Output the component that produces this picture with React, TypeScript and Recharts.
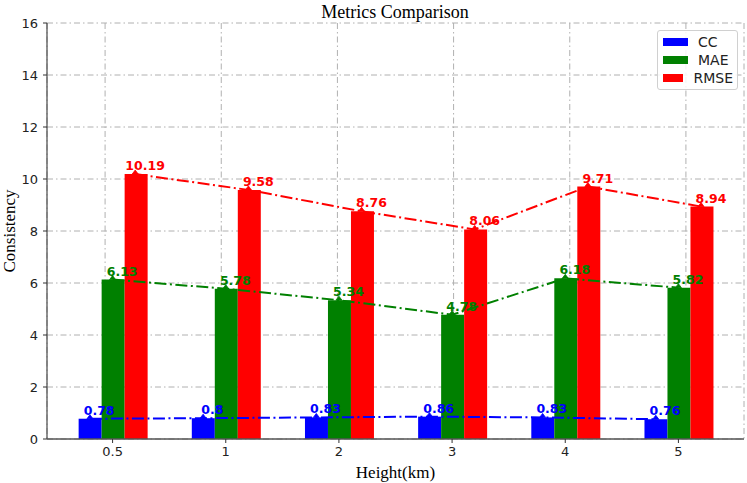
import React from "react";
import {
  ComposedChart,
  Bar,
  Line,
  XAxis,
  YAxis,
  CartesianGrid,
  Legend,
  LabelList,
  Customized,
} from "recharts";

const heights = ["0.5", "1", "2", "3", "4", "5"];
const ccValues = [0.78, 0.8, 0.83, 0.86, 0.83, 0.76];
const maeValues = [6.13, 5.78, 5.34, 4.78, 6.18, 5.82];
const rmseValues = [10.19, 9.58, 8.76, 8.06, 9.71, 8.94];
const yTicks = [0, 2, 4, 6, 8, 10, 12, 14, 16];

const series = [
  { key: "CC", color: "#0000ff", values: ccValues, shift: -0.2 },
  { key: "MAE", color: "#008000", values: maeValues, shift: 0 },
  { key: "RMSE", color: "#ff0000", values: rmseValues, shift: 0.2 },
];

const barData = heights.map((h, i) => ({
  h,
  CC: ccValues[i],
  MAE: maeValues[i],
  RMSE: rmseValues[i],
}));

// line points sit over the middle of each bar in the group
const lineData = (values: number[], shift: number) =>
  values.map((v, i) => ({ x: i + shift, v }));

const SANS = "DejaVu Sans";
const SERIF = "Liberation Serif";
const GRID = "6 3 1.5 3";

const valueLabel = (color: string) => (props: any) => {
  const { x, y, width, value } = props;
  return (
    <text
      x={x + width / 2 + 9}
      y={y - 4}
      textAnchor="middle"
      fill={color}
      fontFamily={SANS}
      fontWeight="bold"
      fontSize={12.5}
    >
      {value}
    </text>
  );
};

const triangleDot = (color: string) => (props: any) => {
  const { cx, cy, index } = props;
  return (
    <path
      key={`dot-${index}`}
      d={`M${cx - 3},${cy} L${cx},${cy - 4} L${cx + 3},${cy} Z`}
      fill={color}
      stroke={color}
      strokeWidth={0.8}
    />
  );
};

const LegendBox = () => (
  <div
    style={{
      border: "1px solid #d0d0d0",
      borderRadius: 3,
      background: "rgba(255,255,255,0.85)",
      padding: "2px 4px 2px 5px",
      width: 81,
      boxSizing: "border-box",
    }}
  >
    {series.map((s) => (
      <div
        key={s.key}
        style={{ display: "flex", alignItems: "center", height: 18 }}
      >
        <span
          style={{
            display: "inline-block",
            width: 25,
            height: 8,
            background: s.color,
            marginRight: 10,
          }}
        />
        <span style={{ fontFamily: SANS, fontSize: 14, color: "#222" }}>
          {s.key}
        </span>
      </div>
    ))}
  </div>
);

const Title = () => (
  <text
    x={395}
    y={18}
    textAnchor="middle"
    fontFamily={SERIF}
    fontSize={18}
    fill="#000"
  >
    Metrics Comparison
  </text>
);

export default function App() {
  return (
    <div style={{ position: "absolute", left: 0, top: 0, background: "#fff" }}>
      <ComposedChart
        width={747}
        height={483}
        data={barData}
        margin={{ top: 23, right: 3, left: 0, bottom: 0 }}
        barCategoryGap="20%"
        barGap={0}
      >
        <CartesianGrid
          stroke="#b0b0b0"
          strokeDasharray={GRID}
          strokeWidth={1}
        />
        <XAxis
          dataKey="h"
          xAxisId="cat"
          padding={{ left: 9, right: 9 }}
          height={44}
          tickSize={4}
          tickMargin={4}
          axisLine={{ stroke: "#555", strokeWidth: 1.3 }}
          tickLine={{ stroke: "#333" }}
          tick={{ fontFamily: SANS, fontSize: 13, fill: "#222" }}
          label={{
            value: "Height(km)",
            position: "insideBottom",
            offset: 5,
            fontFamily: SERIF,
            fontSize: 17,
            fill: "#000",
          }}
        />
        <XAxis
          xAxisId="num"
          type="number"
          dataKey="x"
          domain={[-0.5, 5.5]}
          padding={{ left: 9, right: 9 }}
          allowDataOverflow
          hide
        />
        <XAxis
          xAxisId="top"
          orientation="top"
          dataKey="h"
          height={0}
          tick={false}
          tickLine={false}
          axisLine={{ stroke: "#555", strokeWidth: 1.3 }}
        />
        <YAxis
          domain={[0, 16]}
          ticks={yTicks}
          width={47}
          tickSize={4}
          tickMargin={5}
          interval={0}
          axisLine={{ stroke: "#555", strokeWidth: 1.3 }}
          tickLine={{ stroke: "#333" }}
          tick={{ fontFamily: SANS, fontSize: 13, fill: "#222" }}
          label={{
            value: "Consistency",
            angle: -90,
            position: "insideLeft",
            offset: 9,
            style: { textAnchor: "middle" },
            fontFamily: SERIF,
            fontSize: 17,
            fill: "#000",
          }}
        />
        <YAxis
          yAxisId="right"
          orientation="right"
          domain={[0, 16]}
          width={0}
          tick={false}
          tickLine={false}
          axisLine={{ stroke: "#555", strokeWidth: 1.3 }}
        />
        {series.map((s) => (
          <Bar
            key={`bar-${s.key}`}
            dataKey={s.key}
            xAxisId="cat"
            fill={s.color}
            isAnimationActive={false}
          >
            <LabelList dataKey={s.key} content={valueLabel(s.color)} />
          </Bar>
        ))}
        {series.map((s) => (
          <Line
            key={`line-${s.key}`}
            data={lineData(s.values, s.shift)}
            dataKey="v"
            xAxisId="num"
            type="linear"
            stroke={s.color}
            strokeWidth={2}
            strokeDasharray="12 3.5 2 3.5"
            dot={triangleDot(s.color)}
            activeDot={false}
            legendType="none"
            isAnimationActive={false}
          />
        ))}
        <Legend
          layout="horizontal"
          verticalAlign="middle"
          align="center"
          content={LegendBox}
          wrapperStyle={{ top: 30, left: 657, width: 81, right: "auto" }}
        />
        <Customized component={Title} />
      </ComposedChart>
    </div>
  );
}
